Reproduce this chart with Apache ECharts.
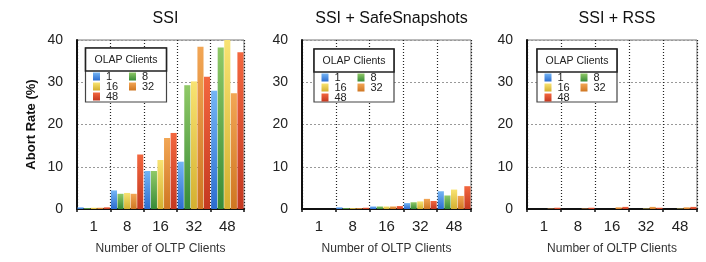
<!DOCTYPE html>
<html>
<head>
<meta charset="utf-8">
<script src="https://cdn.jsdelivr.net/npm/echarts@6/dist/echarts.min.js"></script>
<style>
html,body{margin:0;padding:0;background:#fff;}
#chart{width:706px;height:262px;}
</style>
</head>
<body>
<div id="chart"></div>
<script>
// ---- data ----
const oltpClients = ['1', '8', '16', '32', '48'];
const olapClients = ['1', '8', '16', '32', '48'];
const panelTitles = ['SSI', 'SSI + SafeSnapshots', 'SSI + RSS'];
const yTicks = [0, 10, 20, 30, 40];

// SSI: one array per OLAP client count, across OLTP groups
const ssi_olap1  = [0.4, 4.4, 9.0, 11.2, 28.0];
const ssi_olap8  = [0.2, 3.6, 9.0, 29.3, 38.2];
const ssi_olap16 = [0.3, 3.8, 11.6, 30.2, 40.0];
const ssi_olap32 = [0.3, 3.6, 16.8, 38.4, 27.4];
const ssi_olap48 = [0.4, 12.9, 18.0, 31.3, 37.1];

// SSI + SafeSnapshots
const safe_olap1  = [0.0, 0.4, 0.6, 1.4, 4.2];
const safe_olap8  = [0.0, 0.2, 0.6, 1.6, 3.2];
const safe_olap16 = [0.0, 0.2, 0.6, 1.8, 4.6];
const safe_olap32 = [0.0, 0.2, 0.6, 2.4, 3.1];
const safe_olap48 = [0.0, 0.3, 0.7, 1.9, 5.4];

// SSI + RSS
const rss_olap1  = [0.0, 0.0, 0.0, 0.0, 0.0];
const rss_olap8  = [0.0, 0.0, 0.0, 0.0, 0.0];
const rss_olap16 = [0.0, 0.0, 0.0, 0.1, 0.1];
const rss_olap32 = [0.1, 0.1, 0.4, 0.5, 0.4];
const rss_olap48 = [0.3, 0.3, 0.5, 0.3, 0.5];

const panelData = [
  [ssi_olap1, ssi_olap8, ssi_olap16, ssi_olap32, ssi_olap48],
  [safe_olap1, safe_olap8, safe_olap16, safe_olap32, safe_olap48],
  [rss_olap1, rss_olap8, rss_olap16, rss_olap32, rss_olap48]
];

// ---- layout / style ----
const FONT = '"Liberation Sans", Arial, Helvetica, sans-serif';
const grids = [
  {left: 77, top: 40, width: 167, height: 169},
  {left: 302, top: 40, width: 169, height: 169},
  {left: 527, top: 40, width: 170, height: 169}
];
const legendBoxes = [
  {x: 85.5, y: 48, w: 81, h: 54},
  {x: 314, y: 49, w: 80, h: 53},
  {x: 537, y: 49, w: 80, h: 53}
];
// legend slot (column, row) for each OLAP entry
const legendSlots = [[0, 0], [1, 0], [0, 1], [1, 1], [0, 2]];
const colorStops = [
  ['#74b5f5', '#2c6dd0'],
  ['#90c967', '#378b37'],
  ['#f8e372', '#d4b030'],
  ['#f2a655', '#cf7622'],
  ['#f3673f', '#c43820']
];
function grad(i) {
  return new echarts.graphic.LinearGradient(0, 0, 0, 1, [
    {offset: 0, color: colorStops[i][0]},
    {offset: 1, color: colorStops[i][1]}
  ]);
}

const option = {
  animation: false,
  backgroundColor: '#fff',
  textStyle: {fontFamily: FONT},
  title: panelTitles.map((t, p) => ({
    text: t,
    left: grids[p].left + grids[p].width / 2,
    top: 6,
    textAlign: 'center',
    textStyle: {fontSize: 16, fontWeight: 'normal', color: '#111', fontFamily: FONT}
  })),
  grid: grids.map(g => Object.assign({
    show: true, borderColor: '#777', borderWidth: 1, containLabel: false
  }, g)),
  xAxis: grids.map((g, p) => ({
    type: 'category',
    gridIndex: p,
    data: oltpClients,
    name: 'Number of OLTP Clients',
    nameLocation: 'middle',
    nameGap: 34,
    nameTextStyle: {fontSize: 12, color: '#333', fontFamily: FONT},
    axisLine: {show: true, lineStyle: {color: '#111', width: 2}},
    axisTick: {show: true, length: 3, lineStyle: {color: '#111', width: 1.5}},
    axisLabel: {fontSize: 15, color: '#222', margin: 10, fontFamily: FONT},
    splitLine: {show: true, lineStyle: {color: '#222', type: [1, 2], width: 1.2}}
  })),
  yAxis: grids.map((g, p) => ({
    type: 'value',
    gridIndex: p,
    min: 0, max: 40, interval: 10,
    name: p === 0 ? 'Abort Rate (%)' : '',
    nameLocation: 'middle',
    nameRotate: 90,
    nameGap: 39,
    nameTextStyle: {fontSize: 13, fontWeight: 'bold', color: '#111', fontFamily: FONT},
    axisLine: {show: true, lineStyle: {color: '#111', width: 2}},
    axisTick: {show: false},
    axisLabel: {fontSize: 14, color: '#222', margin: 14, fontFamily: FONT,
      formatter: v => (yTicks.indexOf(v) >= 0 ? String(v) : '')},
    splitLine: {show: true, lineStyle: {color: '#999', type: [2, 2], width: 1}}
  })),
  legend: [],
  graphic: [],
  series: []
};

for (let p = 0; p < 3; p++) {
  for (let k = 0; k < olapClients.length; k++) {
    option.series.push({
      type: 'bar',
      name: olapClients[k],
      xAxisIndex: p,
      yAxisIndex: p,
      data: panelData[p][k],
      barCategoryGap: '3%',
      barGap: '8%',
      itemStyle: {color: grad(k)}
    });
  }
  const b = legendBoxes[p];
  option.graphic.push(
    {type: 'rect', z: 3, shape: {x: b.x, y: b.y, width: b.w, height: b.h},
      style: {fill: '#fff', stroke: '#444', lineWidth: 1.2}},
    {type: 'rect', z: 3, shape: {x: b.x, y: b.y, width: b.w, height: 23},
      style: {fill: '#fff', stroke: '#222', lineWidth: 1.6}},
    {type: 'text', z: 4, x: b.x + b.w / 2, y: b.y + 12,
      style: {text: 'OLAP Clients', align: 'center', verticalAlign: 'middle',
        font: '10.5px ' + FONT, fill: '#222'}}
  );
  for (let k = 0; k < olapClients.length; k++) {
    const [c, r] = legendSlots[k];
    option.legend.push({
      orient: 'horizontal', icon: 'rect', itemWidth: 7, itemHeight: 8,
      padding: 0, z: 10, selectedMode: false,
      left: b.x + 7.5 + c * 36, top: b.y + 23 + r * 10,
      data: [olapClients[k]],
      textStyle: {fontSize: 11, color: '#222', fontFamily: FONT, padding: [0, 0, 0, 1]}
    });
  }
}

const chart = echarts.init(document.getElementById('chart'), null, {renderer: 'canvas'});
chart.setOption(option);
</script>
</body>
</html>
